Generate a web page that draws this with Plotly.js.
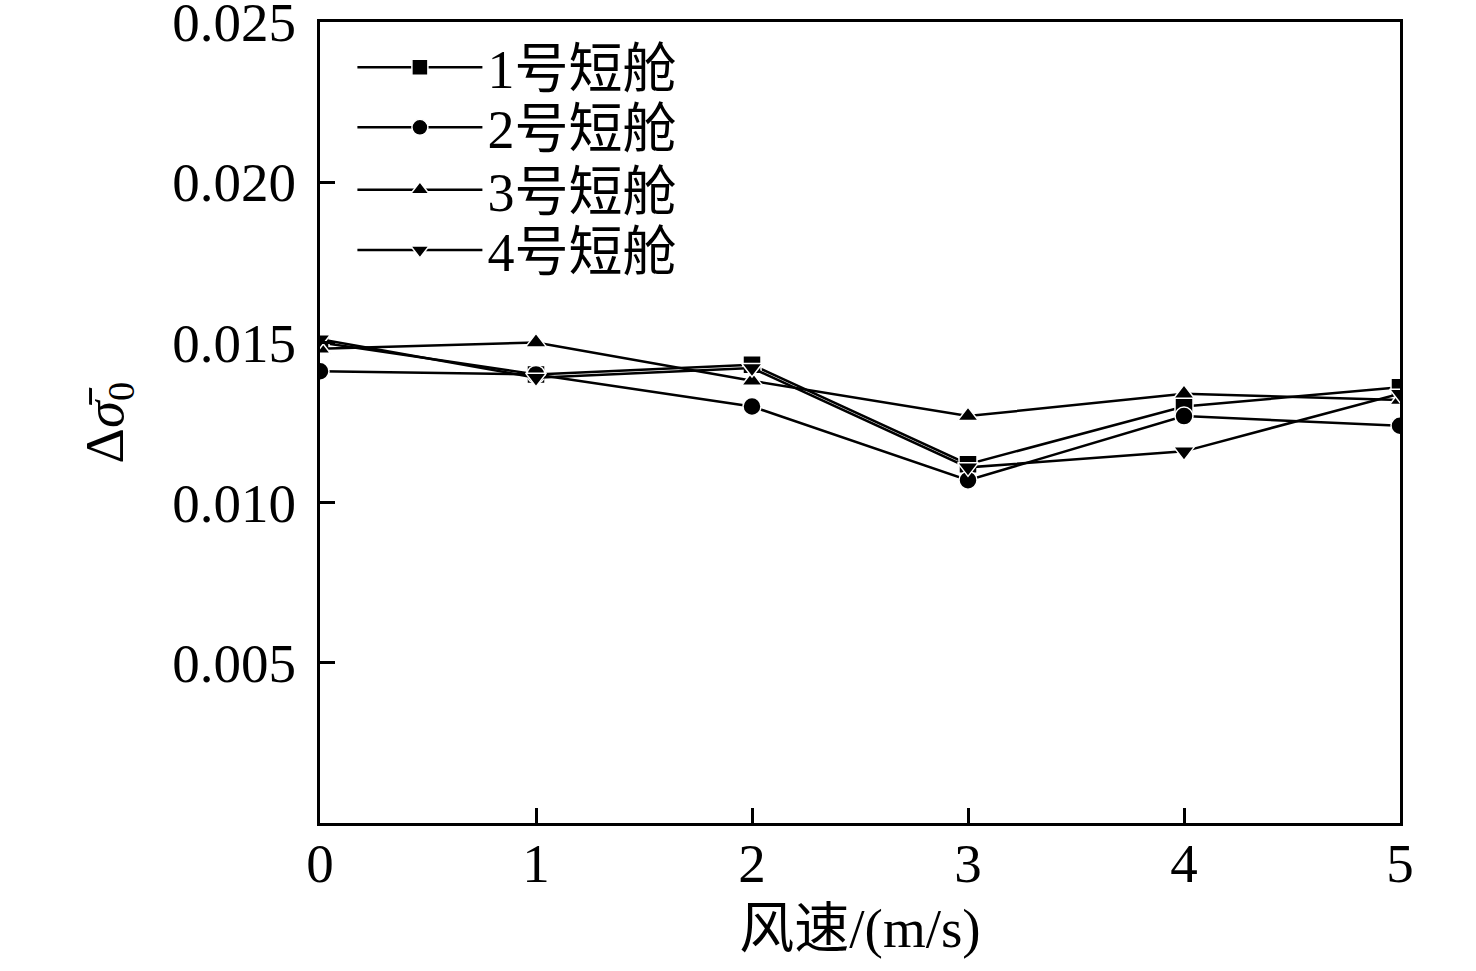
<!DOCTYPE html>
<html>
<head>
<meta charset="utf-8">
<script src="https://cdn.plot.ly/plotly-3.0.1.min.js"></script>
<style>
  html, body { margin: 0; padding: 0; background: #fff; }
  #chart { width: 1476px; height: 971px; }
</style>
</head>
<body>
<div id="chart"></div>
<script>
// wind speed (m/s)
const windSpeed = [0, 1, 2, 3, 4, 5];

const names = ['1号短舱', '2号短舱', '3号短舱', '4号短舱'];
const nacelle1 = [0.0150, 0.0140, 0.0143, 0.0112, 0.0130, 0.0136];
const nacelle2 = [0.0141, 0.0140, 0.0130, 0.0107, 0.0127, 0.0124];
const nacelle3 = [0.0148, 0.0150, 0.0138, 0.0127, 0.0134, 0.0132];
const nacelle4 = [0.0151, 0.0139, 0.0142, 0.0111, 0.0116, 0.0134];

const symbols = ['square', 'circle', 'triangle-up', 'triangle-down'];
const legendIds = ['legend', 'legend2', 'legend3', 'legend4'];

const xTicks = [0, 1, 2, 3, 4, 5];
const yTicks = [0.005, 0.010, 0.015, 0.020, 0.025];

function makeTrace(y, i) {
    return {
        x: windSpeed,
        y: y,
        name: names[i],
        legend: legendIds[i],
        mode: 'lines+markers',
        type: 'scatter',
        line: {color: '#000', width: 2.5},
        marker: {symbol: symbols[i], size: 18, color: '#000', line: {color: '#fff', width: 1.5}}
    };
}

const data = [nacelle1, nacelle2, nacelle3, nacelle4].map(makeTrace);

const serif = '"Liberation Serif", "Times New Roman", "Noto Sans CJK SC", serif';
const tickFont = {family: serif, size: 55, color: '#000'};
const legFont = {family: serif, size: 54, color: '#000'};

// one legend box per row so the row spacing can follow the original
const legendRows = [0.943, 0.868, 0.790, 0.715];

const layout = {
    width: 1476,
    height: 971,
    margin: {l: 320, r: 76, t: 22, b: 148},
    paper_bgcolor: '#fff',
    plot_bgcolor: '#fff',
    font: tickFont,
    showlegend: true,
    xaxis: {
        range: [0, 5],
        tickvals: xTicks,
        ticks: 'inside', ticklen: 15, tickwidth: 2.5, tickcolor: '#000',
        showline: true, linewidth: 3, linecolor: '#000', mirror: true,
        showgrid: false, zeroline: false,
        tickfont: tickFont,
        ticklabelstandoff: -10,
        title: {text: '风速/(m/s)', font: tickFont, standoff: 16}
    },
    yaxis: {
        range: [0, 0.0250001],
        tickvals: yTicks,
        tickformat: '.3f',
        ticks: 'inside', ticklen: 15, tickwidth: 2.5, tickcolor: '#000',
        showline: true, linewidth: 3, linecolor: '#000', mirror: true,
        showgrid: false, zeroline: false,
        tickfont: tickFont,
        ticklabelstandoff: 10,
        ticklabeloverflow: 'allow',
        title: {text: 'Δ<i>σ̄</i><sub>0</sub>', font: tickFont, standoff: 32}
    }
};

legendIds.forEach(function (id, i) {
    layout[id] = {
        x: 0.03, y: legendRows[i], xanchor: 'left', yanchor: 'middle',
        bgcolor: 'rgba(0,0,0,0)',
        font: legFont,
        itemwidth: 125
    };
});

Plotly.newPlot('chart', data, layout, {displayModeBar: false});
</script>
</body>
</html>
